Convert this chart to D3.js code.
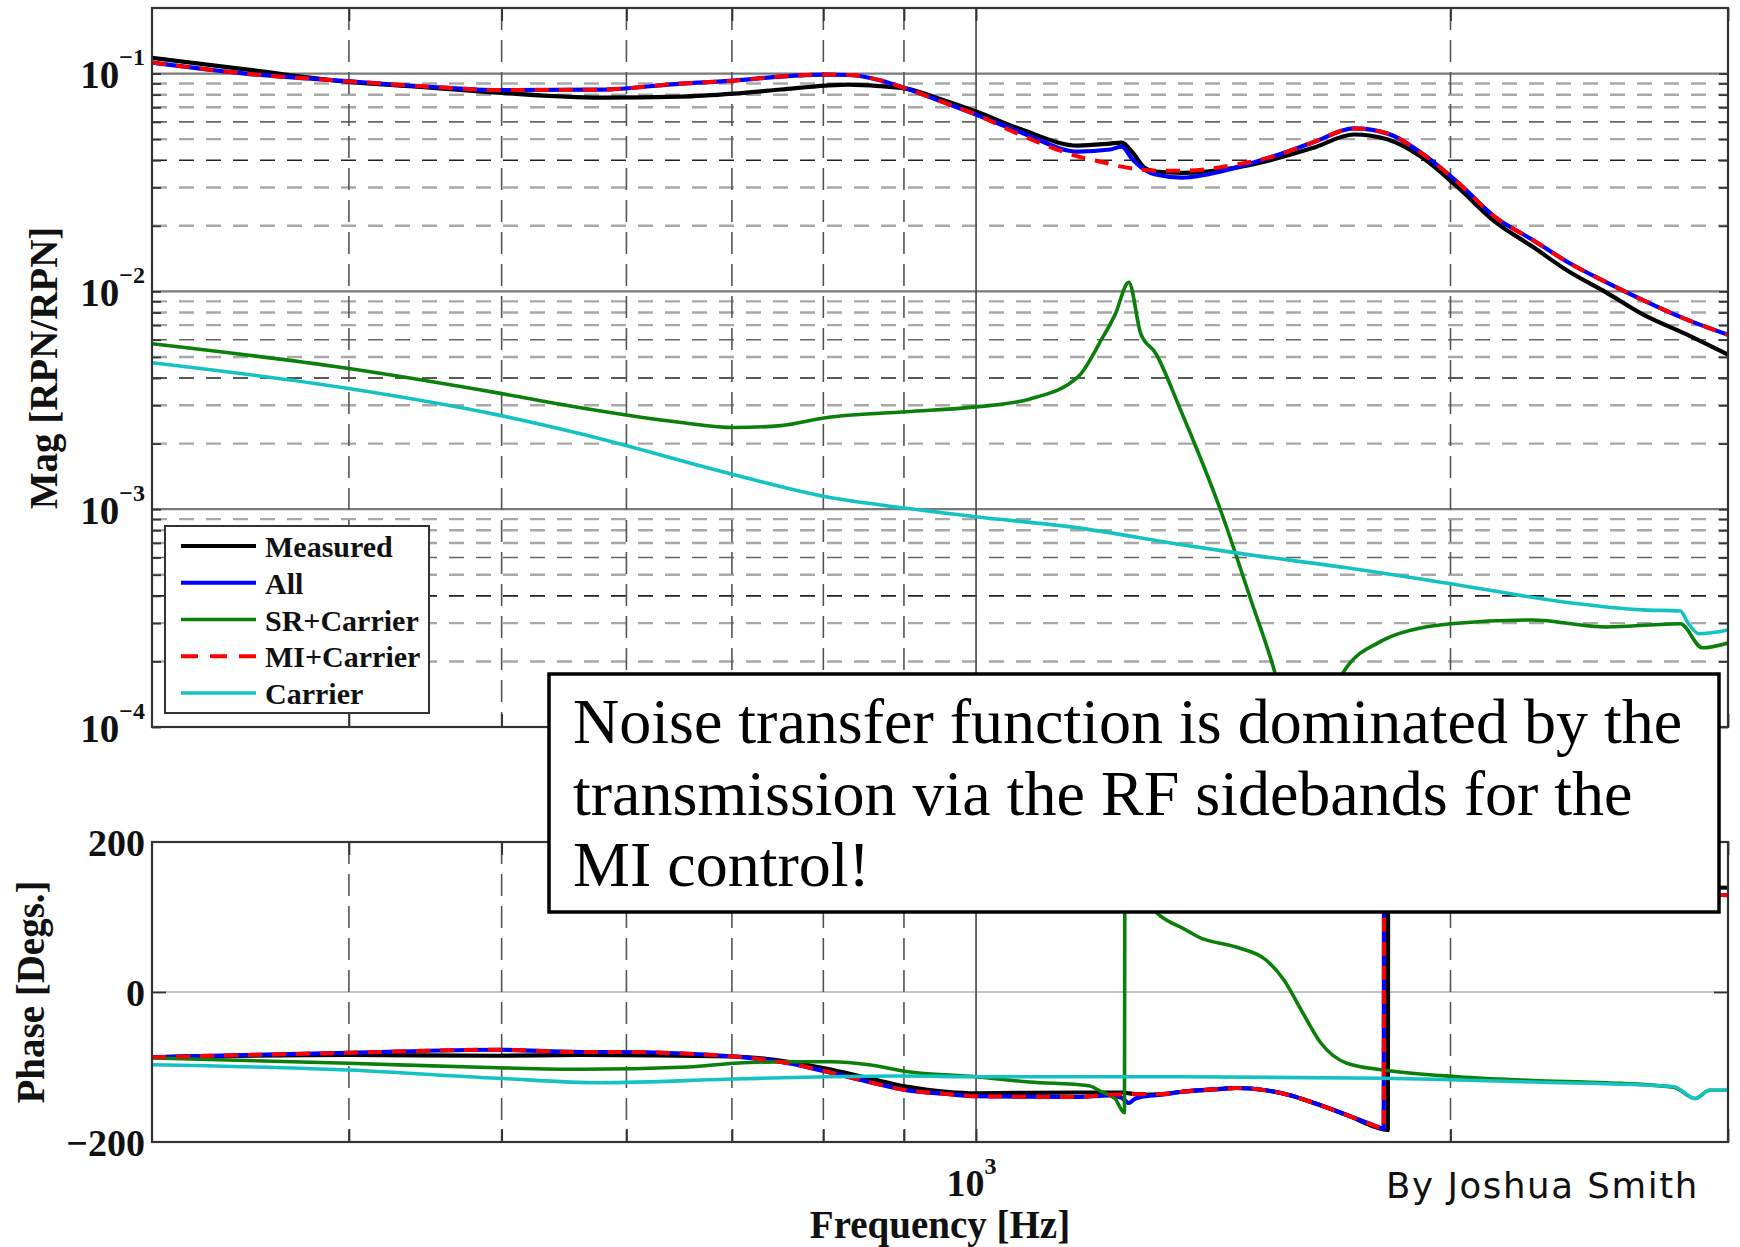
<!DOCTYPE html>
<html>
<head>
<meta charset="utf-8">
<script src="https://cdn.jsdelivr.net/npm/d3@7"></script>
<style>
  html, body { margin: 0; padding: 0; background: #ffffff; }
  svg { display: block; }
</style>
</head>
<body>
<svg id="chart" width="1740" height="1247"></svg>
<script>
// ---------------- data ----------------
const seriesNames = ["Measured", "All", "SR+Carrier", "MI+Carrier", "Carrier"];

// frequency grid lines [Hz]
const freqMinorGrid = [400, 500, 600, 700, 800, 900, 2000, 3000];
const freqMajorGrid = [1000];
const freqTickLabel = [1000];

// magnitude decades and their exponent labels
const magDecades = [1e-4, 1e-3, 1e-2, 1e-1];
const magExponents = ["\u22124", "\u22123", "\u22122", "\u22121"];
const phaseTicks = [-200, 0, 200];

// magnitude [RPN/RPN] vs frequency [Hz]
const magMeasured = [[300,0.118],[346,0.104],[397,0.092],[450,0.0862],[497,0.0818],[578,0.0776],[650,0.0784],[702,0.0809],[752,0.0845],[803,0.0881],[831,0.0890],[870,0.0875],[903,0.0853],[951,0.0760],[1000,0.0669],[1069,0.0553],[1161,0.0467],[1216,0.0477],[1237,0.0482],[1257,0.0434],[1279,0.0370],[1300,0.0355],[1351,0.0350],[1462,0.0370],[1543,0.0403],[1635,0.0455],[1737,0.0525],[1825,0.0498],[1915,0.0416],[2022,0.0300],[2134,0.0209],[2253,0.0161],[2379,0.0123],[2512,0.00987],[2651,0.00782],[2815,0.00641],[3000,0.00512]];
const magAll = [[300,0.1123],[346,0.0995],[397,0.0925],[450,0.0870],[497,0.0840],[578,0.0844],[650,0.0900],[702,0.0928],[752,0.0969],[803,0.0989],[831,0.0985],[870,0.0930],[903,0.0853],[951,0.0744],[1000,0.0648],[1069,0.0535],[1161,0.0438],[1216,0.0448],[1237,0.0462],[1257,0.0403],[1279,0.0362],[1300,0.0344],[1351,0.0333],[1462,0.0370],[1543,0.0416],[1635,0.0482],[1737,0.0560],[1825,0.0530],[1915,0.0434],[2022,0.0316],[2134,0.0220],[2253,0.0173],[2379,0.0135],[2512,0.0110],[2651,0.0091],[2815,0.0075],[3000,0.00632]];
const magMI = [[300,0.1123],[346,0.0995],[397,0.0925],[450,0.0870],[497,0.0840],[578,0.0844],[650,0.0900],[702,0.0928],[752,0.0969],[803,0.0989],[831,0.0985],[870,0.0930],[903,0.0853],[951,0.0744],[1000,0.0648],[1069,0.0520],[1161,0.0416],[1216,0.0385],[1237,0.0374],[1272,0.0362],[1312,0.0358],[1351,0.0358],[1462,0.0382],[1543,0.0416],[1635,0.0482],[1737,0.0560],[1825,0.0530],[1915,0.0434],[2022,0.0316],[2134,0.0220],[2253,0.0173],[2379,0.0135],[2512,0.0110],[2651,0.0091],[2815,0.0075],[3000,0.00632]];
const magSR = [[300,0.00575],[397,0.00446],[497,0.00342],[561,0.00292],[650,0.00250],[702,0.00237],[752,0.00242],[803,0.00263],[903,0.00280],[1000,0.00295],[1081,0.00320],[1161,0.00406],[1201,0.00600],[1225,0.00780],[1250,0.01100],[1272,0.00640],[1300,0.00520],[1348,0.00286],[1429,0.000994],[1494,0.000384],[1547,0.000179],[1585,0.00009],[1620,0.00004],[1665,0.00008],[1709,0.000177],[1814,0.000251],[1915,0.000285],[2001,0.000298],[2253,0.000310],[2512,0.000288],[2798,0.000298],[2890,0.000231],[3000,0.000243]];
const magCarrier = [[300,0.00470],[397,0.00361],[497,0.00271],[561,0.00222],[702,0.00144],[803,0.00114],[903,0.00101],[1000,0.000923],[1161,0.000821],[1351,0.000686],[1462,0.000630],[1719,0.000538],[2022,0.000449],[2379,0.000372],[2651,0.000345],[2798,0.000341],[2830,0.000300],[2875,0.000268],[3000,0.000279]];

// phase [deg] vs frequency [Hz]
const phMeasured = [[300,-87],[400,-84],[497,-85],[561,-84],[702,-86],[760,-93],[803,-102],[855,-115],[903,-126],[958,-133],[1000,-135],[1161,-134],[1237,-134],[1272,-137],[1312,-136],[1351,-133],[1434,-129],[1462,-128],[1527,-131],[1584,-138],[1628,-146],[1719,-164],[1804,-182],[1825,-184],[1826,178],[2000,162],[2400,146],[3000,139]];
const phAll = [[300,-87],[400,-81],[497,-77],[561,-80],[593,-80],[702,-86],[760,-95],[803,-106],[855,-120],[903,-131],[958,-136],[1000,-139],[1161,-140],[1216,-138],[1237,-141],[1250,-148],[1260,-143],[1272,-140],[1312,-137],[1351,-133],[1385,-131],[1434,-129],[1462,-128],[1527,-131],[1584,-138],[1628,-146],[1719,-164],[1804,-181],[1814,-183],[1815,178],[2000,158],[2400,140],[3000,129]];
const phMI = [[300,-87],[400,-81],[497,-77],[561,-80],[593,-80],[702,-86],[760,-95],[803,-106],[855,-120],[903,-131],[958,-136],[1000,-139],[1161,-140],[1216,-137],[1272,-136],[1312,-136],[1351,-133],[1385,-131],[1434,-129],[1462,-128],[1527,-131],[1584,-138],[1628,-146],[1719,-164],[1804,-181],[1814,-183],[1815,178],[2000,158],[2400,140],[3000,129]];
const phSR = [[300,-88],[400,-95],[497,-101],[561,-103],[657,-100],[702,-95],[760,-93],[810,-93],[855,-97],[903,-106],[1000,-113],[1081,-120],[1179,-125],[1201,-133],[1225,-142],[1242,-161],[1243,178],[1260,150],[1280,124],[1300,107],[1358,83],[1385,73],[1462,60],[1527,43],[1568,16],[1612,-28],[1655,-68],[1719,-95],[1814,-104],[2022,-113],[2253,-118],[2512,-121],[2770,-127],[2860,-142],[2920,-131],[3000,-131]];
const phCarrier = [[300,-97],[400,-104],[497,-115],[578,-121],[702,-116],[803,-113],[903,-112],[1000,-113],[1351,-113],[1814,-115],[2253,-120],[2770,-126],[2860,-142],[2920,-131],[3000,-131]];

const noteLines = [
  "Noise transfer function is dominated by the",
  "transmission via the RF sidebands for the",
  "MI control!"
];
const creditText = "By Joshua Smith";

// ---------------- layout & styles ----------------
const plotLeft = 152, plotRight = 1728;
const magTop = 8, magBottom = 727;
const phTop = 842, phBottom = 1142;
const serif = '"Liberation Serif", "Times New Roman", serif';

const styles = {
  "Measured":   { color: "#000000", width: 4.2 },
  "All":        { color: "#0000ff", width: 4.2 },
  "SR+Carrier": { color: "#0a7f0a", width: 3.6 },
  "MI+Carrier": { color: "#ff0000", width: 4.0, dash: "14,10" },
  "Carrier":    { color: "#14c2c2", width: 3.6 }
};
const magSeries = { "Measured": magMeasured, "All": magAll, "SR+Carrier": magSR, "MI+Carrier": magMI, "Carrier": magCarrier };
const phSeries  = { "Measured": phMeasured, "All": phAll, "SR+Carrier": phSR, "MI+Carrier": phMI, "Carrier": phCarrier };

const svg = d3.select("#chart");
svg.append("rect").attr("width", 1740).attr("height", 1247).attr("fill", "#ffffff");

const x = d3.scaleLog().domain([300, 3000]).range([plotLeft, plotRight]);
const yMag = d3.scaleLog().domain([1e-4, 0.2]).range([magBottom, magTop]);
const yPh = d3.scaleLinear().domain([-200, 200]).range([phBottom, phTop]);

const defs = svg.append("defs");
defs.append("clipPath").attr("id", "clipMag").append("rect")
  .attr("x", plotLeft).attr("y", magTop).attr("width", plotRight - plotLeft).attr("height", magBottom - magTop);
defs.append("clipPath").attr("id", "clipPh").append("rect")
  .attr("x", plotLeft).attr("y", phTop).attr("width", plotRight - plotLeft).attr("height", phBottom - phTop);

// ---------------- grids ----------------
function verticalGrid(g, y0, y1) {
  g.selectAll("line.vminor").data(freqMinorGrid.filter(f => f < 3000)).join("line")
    .attr("x1", d => x(d)).attr("x2", d => x(d)).attr("y1", y0).attr("y2", y1)
    .attr("stroke", "#555").attr("stroke-width", 1.6).attr("stroke-dasharray", "22,10");
  g.selectAll("line.vmajor").data(freqMajorGrid).join("line")
    .attr("x1", d => x(d)).attr("x2", d => x(d)).attr("y1", y0).attr("y2", y1)
    .attr("stroke", "#444").attr("stroke-width", 1.6);
}

const gridMag = svg.append("g");
// minor horizontal lines at m x 10^k
const magMinor = [];
[1e-4, 1e-3, 1e-2].forEach(b => { for (let m = 2; m <= 9; m++) magMinor.push({ v: m * b, m }); });
gridMag.selectAll("line.hminor").data(magMinor).join("line")
  .attr("x1", plotLeft).attr("x2", plotRight)
  .attr("y1", d => yMag(d.v)).attr("y2", d => yMag(d.v))
  .attr("stroke", d => d.m === 4 ? "#222" : (d.m === 6 ? "#666" : "#a8a8a8"))
  .attr("stroke-width", d => d.m === 4 || d.m === 6 ? 1.6 : 2.4)
  .attr("stroke-dasharray", "15,12");
gridMag.selectAll("line.hmajor").data(magDecades.slice(1)).join("line")
  .attr("x1", plotLeft).attr("x2", plotRight)
  .attr("y1", d => yMag(d)).attr("y2", d => yMag(d))
  .attr("stroke", "#7a7a7a").attr("stroke-width", 2.2);
verticalGrid(gridMag.append("g"), magTop, magBottom);

const gridPh = svg.append("g");
gridPh.append("line")
  .attr("x1", plotLeft).attr("x2", plotRight).attr("y1", yPh(0)).attr("y2", yPh(0))
  .attr("stroke", "#c4c4c4").attr("stroke-width", 2);
verticalGrid(gridPh.append("g"), phTop, phBottom);

// ---------------- curves ----------------
const lineMag = d3.line().x(d => x(d[0])).y(d => yMag(d[1])).curve(d3.curveMonotoneX);
const linePh = d3.line().x(d => x(d[0])).y(d => yPh(d[1])).curve(d3.curveMonotoneX);

const curvesMag = svg.append("g").attr("clip-path", "url(#clipMag)");
const curvesPh = svg.append("g").attr("clip-path", "url(#clipPh)");
seriesNames.forEach(name => {
  const s = styles[name];
  curvesMag.append("path").datum(magSeries[name]).attr("d", lineMag)
    .attr("fill", "none").attr("stroke", s.color).attr("stroke-width", s.width)
    .attr("stroke-linejoin", "round").attr("stroke-dasharray", s.dash || null);
  curvesPh.append("path").datum(phSeries[name]).attr("d", linePh)
    .attr("fill", "none").attr("stroke", s.color).attr("stroke-width", s.width)
    .attr("stroke-linejoin", "round").attr("stroke-dasharray", s.dash || null);
});

// ---------------- axes ----------------
const allMagTicks = magDecades.concat(magMinor.map(d => d.v));
function tickStyle(g) {
  g.select(".domain").remove();
  g.selectAll(".tick line").attr("stroke", "#333").attr("stroke-width", 1.8);
  g.selectAll(".tick text").remove();
}
svg.append("g").attr("transform", `translate(${plotLeft},0)`)
  .call(d3.axisLeft(yMag).tickValues(allMagTicks).tickSize(-9).tickFormat("")).call(tickStyle);
svg.append("g").attr("transform", `translate(${plotRight},0)`)
  .call(d3.axisRight(yMag).tickValues(allMagTicks).tickSize(-9).tickFormat("")).call(tickStyle);
[magBottom, phBottom].forEach(yy => {
  svg.append("g").attr("transform", `translate(0,${yy})`)
    .call(d3.axisBottom(x).tickValues(freqMinorGrid.concat(freqMajorGrid)).tickSize(-13).tickFormat("")).call(tickStyle);
});
[magTop, phTop].forEach(yy => {
  svg.append("g").attr("transform", `translate(0,${yy})`)
    .call(d3.axisTop(x).tickValues(freqMinorGrid.concat(freqMajorGrid)).tickSize(-13).tickFormat("")).call(tickStyle);
});
svg.append("g").attr("transform", `translate(${plotLeft},0)`)
  .call(d3.axisLeft(yPh).tickValues([0]).tickSize(-14).tickFormat("")).call(tickStyle);
svg.append("g").attr("transform", `translate(${plotRight},0)`)
  .call(d3.axisRight(yPh).tickValues([0]).tickSize(-14).tickFormat("")).call(tickStyle);

// plot frames
[[magTop, magBottom], [phTop, phBottom]].forEach(([t, b]) => {
  svg.append("rect").attr("x", plotLeft).attr("y", t)
    .attr("width", plotRight - plotLeft).attr("height", b - t)
    .attr("fill", "none").attr("stroke", "#333").attr("stroke-width", 2.2);
});

// tick labels: magnitude (10 with exponent)
const magLabelAxis = svg.append("g").attr("transform", `translate(${plotLeft},0)`)
  .call(d3.axisLeft(yMag).tickValues(magDecades).tickSize(0).tickFormat(""));
magLabelAxis.select(".domain").remove();
magLabelAxis.selectAll(".tick text")
  .attr("x", -7).attr("dy", 14)
  .attr("font-family", serif).attr("font-weight", "bold").attr("font-size", 39)
  .attr("fill", "#111").attr("text-anchor", "end")
  .each(function(d) {
    const t = d3.select(this);
    t.text(null);
    t.append("tspan").text("10");
    t.append("tspan").attr("dy", -23).attr("font-size", 24).text(magExponents[magDecades.indexOf(d)]);
  });

// tick labels: phase
const phLabelAxis = svg.append("g").attr("transform", `translate(${plotLeft},0)`)
  .call(d3.axisLeft(yPh).tickValues(phaseTicks).tickSize(0)
    .tickFormat(d => d < 0 ? "\u2212" + Math.abs(d) : String(d)));
phLabelAxis.select(".domain").remove();
phLabelAxis.selectAll(".tick text")
  .attr("x", -7).attr("dy", 13)
  .attr("font-family", serif).attr("font-weight", "bold").attr("font-size", 38)
  .attr("fill", "#111").attr("text-anchor", "end");

// tick label: frequency
const fLabelAxis = svg.append("g").attr("transform", `translate(0,${phBottom})`)
  .call(d3.axisBottom(x).tickValues(freqTickLabel).tickSize(0).tickFormat(""));
fLabelAxis.select(".domain").remove();
fLabelAxis.selectAll(".tick text")
  .attr("y", 0).attr("dy", 54).attr("x", -5)
  .attr("font-family", serif).attr("font-weight", "bold").attr("font-size", 38)
  .attr("fill", "#111").attr("text-anchor", "middle")
  .each(function() {
    const t = d3.select(this);
    t.text(null);
    t.append("tspan").text("10");
    t.append("tspan").attr("dy", -22).attr("font-size", 24).text("3");
  });

// axis titles
svg.append("text").attr("transform", "translate(57,368) rotate(-90)")
  .attr("text-anchor", "middle").attr("font-family", serif).attr("font-weight", "bold")
  .attr("font-size", 39).attr("fill", "#111").text("Mag [RPN/RPN]");
svg.append("text").attr("transform", "translate(44,992) rotate(-90)")
  .attr("text-anchor", "middle").attr("font-family", serif).attr("font-weight", "bold")
  .attr("font-size", 39).attr("fill", "#111").text("Phase [Degs.]");
svg.append("text").attr("x", (plotLeft + plotRight) / 2).attr("y", 1238)
  .attr("text-anchor", "middle").attr("font-family", serif).attr("font-weight", "bold")
  .attr("font-size", 39).attr("fill", "#111").text("Frequency [Hz]");

// ---------------- legend ----------------
const legend = svg.append("g");
legend.append("rect").attr("x", 165).attr("y", 526).attr("width", 264).attr("height", 187)
  .attr("fill", "#ffffff").attr("stroke", "#333").attr("stroke-width", 2);
const legendRow = d3.scalePoint().domain(seriesNames).range([546, 693]);
seriesNames.forEach(name => {
  const s = styles[name];
  const yy = legendRow(name);
  legend.append("line").attr("x1", 181).attr("x2", 256).attr("y1", yy).attr("y2", yy)
    .attr("stroke", s.color).attr("stroke-width", s.width)
    .attr("stroke-dasharray", s.dash ? "17,12" : null);
  legend.append("text").attr("x", 265).attr("y", yy + 11)
    .attr("font-family", serif).attr("font-weight", "bold").attr("font-size", 30)
    .attr("fill", "#111").text(name);
});

// ---------------- annotation ----------------
const note = svg.append("g");
note.append("rect").attr("x", 549).attr("y", 674).attr("width", 1170).attr("height", 238)
  .attr("fill", "#ffffff").attr("stroke", "#000").attr("stroke-width", 3.5);
noteLines.forEach((line, i) => {
  note.append("text").attr("x", 573).attr("y", 743 + i * 71.5)
    .attr("font-family", serif).attr("font-size", 64).attr("fill", "#000").text(line);
});

svg.append("text").attr("x", 1386).attr("y", 1198)
  .attr("font-family", '"DejaVu Sans", "Noto Sans", sans-serif').attr("font-size", 35.5)
  .attr("letter-spacing", 1.6)
  .attr("fill", "#111").text(creditText);
</script>
</body>
</html>
